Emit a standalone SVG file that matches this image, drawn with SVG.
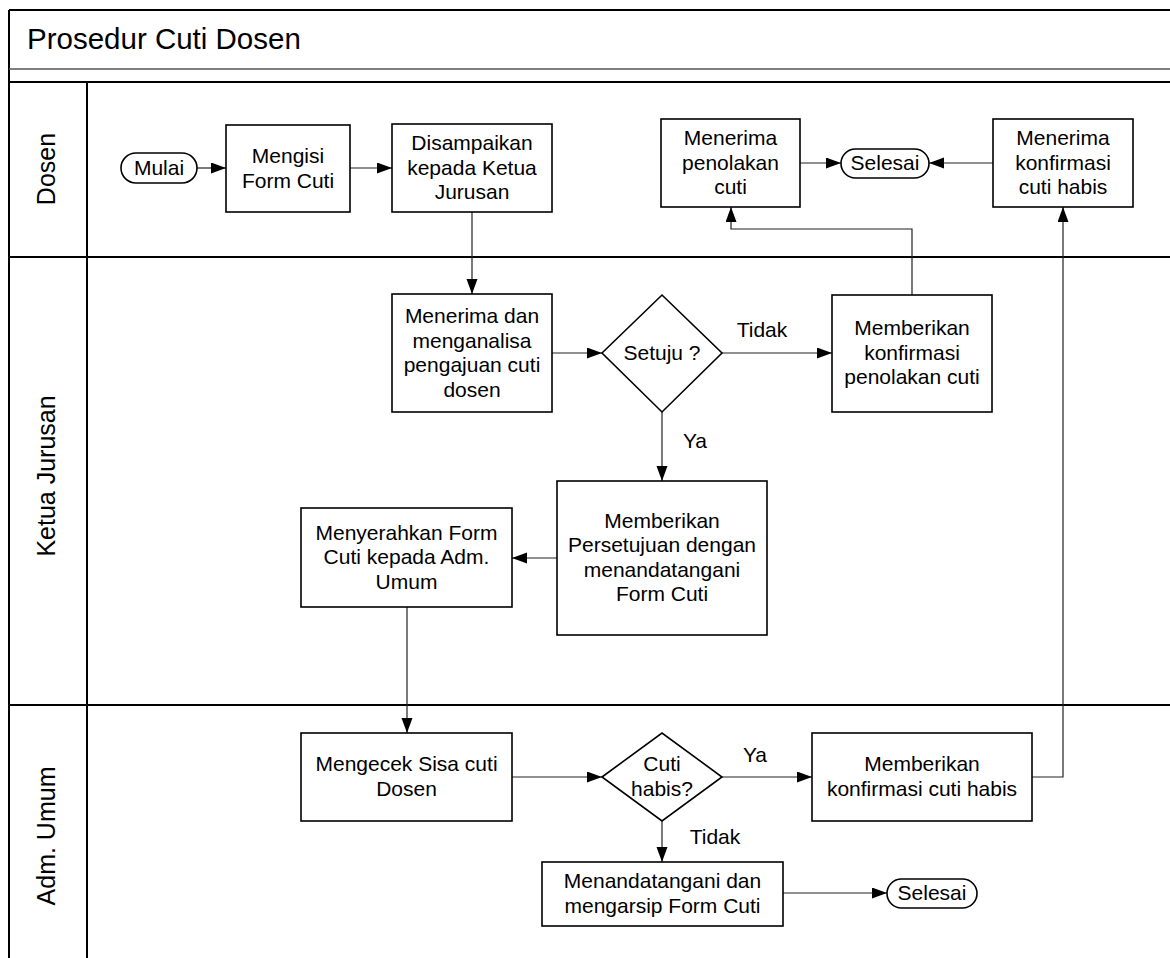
<svg xmlns="http://www.w3.org/2000/svg" width="1170" height="958" viewBox="0 0 1170 958">
<style>
text{font-family:"Liberation Sans",Arial,sans-serif;fill:#000}
.t{font-size:21px;text-anchor:middle}
.lane{font-size:25px;text-anchor:middle}
.box{fill:#fff;stroke:#000;stroke-width:1.6}
.frame{fill:none;stroke:#000;stroke-width:2}
.thin{fill:none;stroke:#555;stroke-width:1.5}
.conn{fill:none;stroke:#222;stroke-width:1.2;marker-end:url(#arr)}
</style>
<defs>
<marker id="arr" markerUnits="userSpaceOnUse" markerWidth="17" markerHeight="12" refX="15" refY="5.5" orient="auto">
<path d="M0,0 L15,5.5 L0,11 z" fill="#000"/>
</marker>
</defs>
<rect x="0" y="0" width="1170" height="958" fill="#fff"/>
<g id="frame">
<line class="frame" x1="9" y1="10" x2="9" y2="958"/>
<line class="frame" x1="9" y1="10" x2="1170" y2="10"/>
<line class="thin" x1="9" y1="69" x2="1170" y2="69"/>
<line class="frame" x1="9" y1="82" x2="1170" y2="82"/>
<line class="frame" x1="87" y1="82" x2="87" y2="958"/>
<line class="frame" x1="9" y1="257" x2="1170" y2="257"/>
<line class="frame" x1="9" y1="705" x2="1170" y2="705"/>
<text x="27" y="49" style="font-size:29.5px">Prosedur Cuti Dosen</text>
</g>
<g id="lane-dosen"><text class="lane" transform="translate(55,169) rotate(-90)">Dosen</text></g>
<g id="lane-ketua"><text class="lane" transform="translate(55,476) rotate(-90)">Ketua Jurusan</text></g>
<g id="lane-adm"><text class="lane" transform="translate(55,836) rotate(-90)">Adm. Umum</text></g>

<g id="connectors">
<path class="conn" d="M197,168 H226"/>
<path class="conn" d="M350,168 H392"/>
<path class="conn" d="M472,212 V294"/>
<path class="conn" d="M552,353 H602"/>
<path class="conn" d="M722,353 H832"/>
<path class="conn" d="M912,295 V229 H731 V207"/>
<path class="conn" d="M800,163 H841"/>
<path class="conn" d="M993,163 H929"/>
<path class="conn" d="M662,412 V481"/>
<path class="conn" d="M557,558 H512"/>
<path class="conn" d="M407,607 V733"/>
<path class="conn" d="M512,777 H602"/>
<path class="conn" d="M722,777 H812"/>
<path class="conn" d="M1032,777 H1063 V207"/>
<path class="conn" d="M662,821 V862"/>
<path class="conn" d="M783,893 H887"/>
<text class="t" x="762" y="337">Tidak</text>
<text class="t" x="695" y="448">Ya</text>
<text class="t" x="755" y="762">Ya</text>
<text class="t" x="715" y="844">Tidak</text>
</g>

<g id="mulai">
<rect class="box" x="121" y="153" width="76" height="30" rx="15"/>
<text class="t" x="159" y="175">Mulai</text>
</g>
<g id="mengisi">
<rect class="box" x="226" y="125" width="124" height="87"/>
<text class="t" x="288" y="163">Mengisi</text>
<text class="t" x="288" y="187.5">Form Cuti</text>
</g>
<g id="disampaikan">
<rect class="box" x="392" y="124" width="160" height="88"/>
<text class="t" x="472" y="150">Disampaikan</text>
<text class="t" x="472" y="174.5">kepada Ketua</text>
<text class="t" x="472" y="199">Jurusan</text>
</g>
<g id="menerima-penolakan">
<rect class="box" x="661" y="119" width="139" height="88"/>
<text class="t" x="730.5" y="145">Menerima</text>
<text class="t" x="730.5" y="169.5">penolakan</text>
<text class="t" x="730.5" y="194">cuti</text>
</g>
<g id="selesai-1">
<rect class="box" x="841" y="149" width="88" height="29" rx="14.5"/>
<text class="t" x="885" y="170">Selesai</text>
</g>
<g id="menerima-konfirmasi">
<rect class="box" x="993" y="119" width="140" height="88"/>
<text class="t" x="1063" y="145">Menerima</text>
<text class="t" x="1063" y="169.5">konfirmasi</text>
<text class="t" x="1063" y="194">cuti habis</text>
</g>
<g id="menerima-analisa">
<rect class="box" x="392" y="294" width="160" height="118"/>
<text class="t" x="472" y="323">Menerima dan</text>
<text class="t" x="472" y="347.5">menganalisa</text>
<text class="t" x="472" y="372">pengajuan cuti</text>
<text class="t" x="472" y="396.5">dosen</text>
</g>
<g id="setuju">
<path class="box" d="M602,353 L662,295 L722,353 L662,412 Z"/>
<text class="t" x="662" y="360">Setuju ?</text>
</g>
<g id="konfirmasi-penolakan">
<rect class="box" x="832" y="295" width="160" height="117"/>
<text class="t" x="912" y="335">Memberikan</text>
<text class="t" x="912" y="359.5">konfirmasi</text>
<text class="t" x="912" y="384">penolakan cuti</text>
</g>
<g id="persetujuan">
<rect class="box" x="557" y="481" width="210" height="154"/>
<text class="t" x="662" y="527.5">Memberikan</text>
<text class="t" x="662" y="552">Persetujuan dengan</text>
<text class="t" x="662" y="576.5">menandatangani</text>
<text class="t" x="662" y="601">Form Cuti</text>
</g>
<g id="menyerahkan">
<rect class="box" x="301" y="508" width="211" height="99"/>
<text class="t" x="406.5" y="539.5">Menyerahkan Form</text>
<text class="t" x="406.5" y="564">Cuti kepada Adm.</text>
<text class="t" x="406.5" y="588.5">Umum</text>
</g>
<g id="mengecek">
<rect class="box" x="301" y="733" width="211" height="88"/>
<text class="t" x="406.5" y="771">Mengecek Sisa cuti</text>
<text class="t" x="406.5" y="795.5">Dosen</text>
</g>
<g id="cuti-habis">
<path class="box" d="M602,777 L662,733 L722,777 L662,821 Z"/>
<text class="t" x="662" y="771">Cuti</text>
<text class="t" x="662" y="795.5">habis?</text>
</g>
<g id="konfirmasi-habis">
<rect class="box" x="812" y="733" width="220" height="88"/>
<text class="t" x="922" y="771">Memberikan</text>
<text class="t" x="922" y="795.5">konfirmasi cuti habis</text>
</g>
<g id="menandatangani">
<rect class="box" x="542" y="862" width="241" height="64"/>
<text class="t" x="662.5" y="888">Menandatangani dan</text>
<text class="t" x="662.5" y="912.5">mengarsip Form Cuti</text>
</g>
<g id="selesai-2">
<rect class="box" x="887" y="879" width="90" height="29" rx="14.5"/>
<text class="t" x="932" y="900">Selesai</text>
</g>
</svg>
